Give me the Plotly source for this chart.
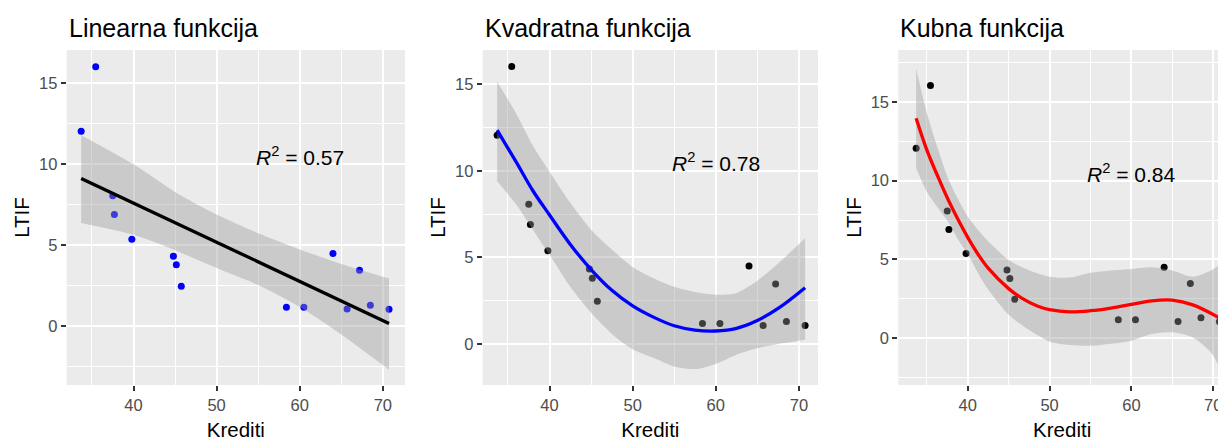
import plotly.graph_objects as go

# ---------------- data ----------------
krediti = [33.7, 35.45, 37.5, 37.7, 39.8, 44.8, 45.15, 45.75, 58.4, 60.5, 64.0, 65.7, 67.2, 68.5, 70.75]
ltif = [12.05, 16.03, 8.07, 6.9, 5.38, 4.33, 3.8, 2.47, 1.18, 1.18, 4.5, 1.07, 3.47, 1.3, 1.06]

# linear fit (black line) and its confidence band
lin_x = [33.7, 70.75]
lin_y = [9.13, 0.18]
lin_band_x = [33.7, 40, 45, 50, 55, 60, 65, 70.75]
lin_upper = [11.8, 10.0, 8.3, 6.9, 5.75, 4.75, 3.85, 2.95]
lin_lower = [6.38, 5.65, 4.7, 3.6, 2.55, 1.2, -0.5, -2.68]

# quadratic fit (blue line) and its confidence band
quad_x = [33.7, 36, 38, 40, 42.5, 45, 47.5, 50, 52.5, 55, 57.5, 60, 62.5, 65, 67.5, 70.75]
quad_y = [12.35, 10.5, 8.85, 7.45, 5.75, 4.3, 3.1, 2.2, 1.55, 1.05, 0.8, 0.75, 0.9, 1.35, 2.05, 3.25]
quad_upper = [15.15, 13.3, 11.45, 9.95, 8.15, 6.6, 5.45, 4.45, 3.8, 3.3, 3.0, 2.85, 2.95, 3.65, 4.65, 6.1]
quad_lower = [9.4, 8.05, 6.6, 5.15, 3.3, 1.8, 0.58, -0.3, -0.8, -1.3, -1.45, -1.15, -0.62, -0.25, 0.0, 0.25]

# cubic fit (red line) and its confidence band
cub_x = [33.7, 35, 36.4, 37.6, 38.9, 40, 41.3, 42.5, 45, 46.6, 48.5, 50, 52.5, 55, 57.5, 60, 62.5, 65, 67.5, 70.75]
cub_y = [13.95, 11.95, 10.2, 8.8, 7.45, 6.4, 5.3, 4.45, 3.15, 2.55, 2.05, 1.82, 1.68, 1.75, 1.92, 2.15, 2.38, 2.42, 2.12, 1.3]
cub_band_x = [33.7, 35, 36.4, 37.6, 38.9, 40, 41.3, 42.5, 45, 46.9, 48.5, 50, 52.5, 55, 57.5, 60, 62.5, 65, 67.5, 69.7, 70.75]
cub_upper = [17.1, 14.3, 11.95, 10.15, 8.75, 7.72, 6.85, 6.15, 4.97, 4.44, 4.12, 3.91, 3.85, 4.15, 4.3, 4.4, 4.5, 4.3, 3.9, 4.3, 4.65]
cub_lower = [10.8, 9.3, 8.25, 7.4, 6.2, 5.35, 4.1, 3.1, 1.5, 0.74, 0.21, -0.21, -0.42, -0.47, -0.35, -0.15, 0.27, 0.38, 0.05, -0.89, -1.84]

titles = ["Linearna funkcija", "Kvadratna funkcija", "Kubna funkcija"]
r2_labels = ["0.57", "0.78", "0.84"]
x_ticks = [40, 50, 60, 70]
y_ticks = [0, 5, 10, 15]

# ---------------- styling ----------------
# the page body has an 8px default margin, so the figure is sized to fill the
# remaining 1218x434 of the 1226x442 window
OFF = 8
W, H = 1226 - OFF, 442 - OFF
FONT = "Arial, Liberation Sans, sans-serif"
BAND = "rgba(153,153,153,0.4)"
point_colors = ["#0000FF", "#000000", "#000000"]
line_colors = ["#000000", "#0000FF", "#FF0000"]
panel_px = [(66.7, 405.0), (482.7, 818.0), (898.3, 1226.0)]  # panel edges in window pixels
x_domains = [[(a - OFF) / W, min(1.0, (b - OFF) / W)] for a, b in panel_px]
x_ranges = [[31.96, 72.67], [31.96, 72.3], [31.52, 71.56]]
y_ranges = [[-3.62, 17.06], [-2.37, 16.98], [-2.96, 18.28]]
TOP, BOTTOM = 50 - OFF, 385 - OFF   # panel top / bottom inside the figure
PANEL_H = BOTTOM - TOP

fits = [
    (lin_x, lin_y, lin_band_x, lin_upper, lin_lower, "linear"),
    (quad_x, quad_y, quad_x, quad_upper, quad_lower, "spline"),
    (cub_x, cub_y, cub_band_x, cub_upper, cub_lower, "spline"),
]

fig = go.Figure()
layout = {}
for i in range(3):
    sfx = "" if i == 0 else str(i + 1)
    xa, ya = "x" + sfx, "y" + sfx
    fx, fy, bx, bu, bl, shape = fits[i]
    # points first (the band is drawn over them, as in ggplot)
    fig.add_trace(go.Scatter(x=krediti, y=ltif, mode="markers", xaxis=xa, yaxis=ya,
                             marker=dict(color=point_colors[i], size=7, line=dict(width=0)),
                             showlegend=False))
    fig.add_trace(go.Scatter(x=bx, y=bl, mode="lines", xaxis=xa, yaxis=ya,
                             line=dict(width=0, shape="spline", smoothing=0.8, color=BAND),
                             hoverinfo="skip", showlegend=False))
    fig.add_trace(go.Scatter(x=bx, y=bu, mode="lines", xaxis=xa, yaxis=ya, fill="tonexty",
                             fillcolor=BAND,
                             line=dict(width=0, shape="spline", smoothing=0.8, color=BAND),
                             hoverinfo="skip", showlegend=False))
    fig.add_trace(go.Scatter(x=fx, y=fy, mode="lines", xaxis=xa, yaxis=ya,
                             line=dict(color=line_colors[i], width=3.3, shape=shape),
                             showlegend=False))

    layout["xaxis" + sfx] = dict(
        domain=x_domains[i], anchor=ya, range=x_ranges[i],
        tickmode="array", tickvals=x_ticks, ticktext=[str(v) for v in x_ticks],
        ticks="outside", ticklen=5, tickwidth=1.5, tickcolor="#333333",
        tickfont=dict(family=FONT, size=16.5, color="#4D4D4D"),
        showgrid=True, gridcolor="white", gridwidth=2,
        minor=dict(dtick=5, tick0=35, showgrid=True, gridcolor="white", gridwidth=1, ticks=""),
        zeroline=False, showline=False,
        title=dict(text="Krediti", font=dict(family=FONT, size=20.5, color="#000000"), standoff=9),
    )
    layout["yaxis" + sfx] = dict(
        domain=[0, 1], anchor=xa, range=y_ranges[i],
        tickmode="array", tickvals=y_ticks, ticktext=[str(v) for v in y_ticks],
        ticks="outside", ticklen=5, tickwidth=1.5, tickcolor="#333333",
        tickfont=dict(family=FONT, size=16.5, color="#4D4D4D"),
        showgrid=True, gridcolor="white", gridwidth=2,
        minor=dict(dtick=2.5, tick0=2.5, showgrid=True, gridcolor="white", gridwidth=1, ticks=""),
        zeroline=False, showline=False,
        title=dict(text="LTIF", font=dict(family=FONT, size=20.5, color="#000000"), standoff=3),
    )

annotations = []
for i in range(3):
    sfx = "" if i == 0 else str(i + 1)
    annotations.append(dict(
        text=titles[i], xref="paper", yref="paper", x=x_domains[i][0], y=1 + 22.0 / PANEL_H,
        xanchor="left", yanchor="middle", showarrow=False,
        font=dict(family=FONT, size=25, color="#000000")))
    annotations.append(dict(
        text="<i>R</i><sup>2</sup> = " + r2_labels[i], xref="x" + sfx, yref="y" + sfx,
        x=60, y=10.5, xanchor="center", yanchor="middle", showarrow=False,
        font=dict(family=FONT, size=21, color="#000000")))

fig.update_layout(
    width=W, height=H,
    margin=dict(l=0, r=0, t=TOP, b=H - BOTTOM, pad=0),
    paper_bgcolor="white", plot_bgcolor="#EBEBEB",
    showlegend=False, annotations=annotations,
    font=dict(family=FONT),
    **layout,
)

fig.write_html("out.html")
